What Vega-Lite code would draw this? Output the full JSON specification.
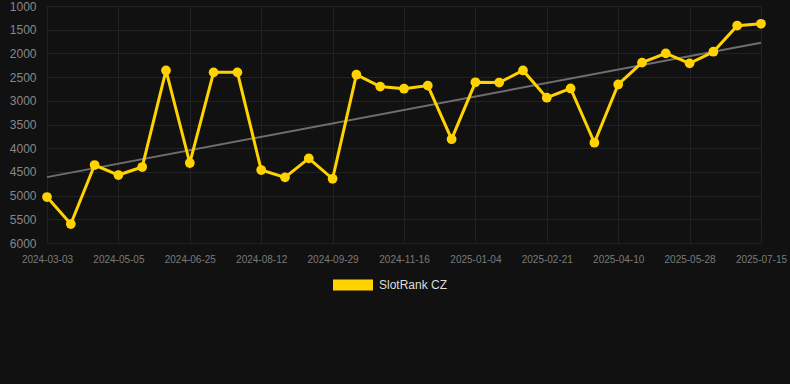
{
  "$schema": "https://vega.github.io/schema/vega-lite/v6.json",
  "width": 752,
  "height": 237,
  "autosize": {"type": "none"},
  "padding": {"left": 38, "top": 6, "right": 0, "bottom": 141},
  "background": "#111111",
  "config": {
    "view": {"stroke": null},
    "font": "Liberation Sans",
    "axis": {"gridColor": "#222222", "gridWidth": 1, "domain": false, "ticks": false, "labelColor": "#7a7a7a", "labelFont": "Liberation Sans"},
    "axisY": {"title": null, "format": "d", "labelOverlap": false, "values": [1000, 1500, 2000, 2500, 3000, 3500, 4000, 4500, 5000, 5500, 6000], "labelFontSize": 12, "labelPadding": 2, "grid": true, "labelColor": "#888888"}
  },
  "data": {
    "values": [
      {"date": "2024-03-03", "rank": 5030, "trend": 4610},
      {"date": "2024-03-24", "rank": 5600},
      {"date": "2024-04-14", "rank": 4355},
      {"date": "2024-05-05", "rank": 4566},
      {"date": "2024-05-22", "rank": 4397},
      {"date": "2024-06-08", "rank": 2360},
      {"date": "2024-06-25", "rank": 4313},
      {"date": "2024-07-11", "rank": 2400},
      {"date": "2024-07-27", "rank": 2400},
      {"date": "2024-08-12", "rank": 4460},
      {"date": "2024-08-28", "rank": 4615},
      {"date": "2024-09-13", "rank": 4215},
      {"date": "2024-09-29", "rank": 4645},
      {"date": "2024-10-15", "rank": 2450},
      {"date": "2024-10-31", "rank": 2700},
      {"date": "2024-11-16", "rank": 2745},
      {"date": "2024-12-02", "rank": 2680},
      {"date": "2024-12-18", "rank": 3810},
      {"date": "2025-01-04", "rank": 2610},
      {"date": "2025-01-20", "rank": 2615},
      {"date": "2025-02-05", "rank": 2360},
      {"date": "2025-02-21", "rank": 2935},
      {"date": "2025-03-09", "rank": 2740},
      {"date": "2025-03-25", "rank": 3885},
      {"date": "2025-04-10", "rank": 2655},
      {"date": "2025-04-26", "rank": 2195},
      {"date": "2025-05-12", "rank": 2000},
      {"date": "2025-05-28", "rank": 2210},
      {"date": "2025-06-13", "rank": 1965},
      {"date": "2025-06-29", "rank": 1415},
      {"date": "2025-07-15", "rank": 1375, "trend": 1775}
    ]
  },
  "encoding": {
    "x": {
      "field": "date",
      "type": "ordinal",
      "scale": {"type": "point", "range": [9, 723], "padding": 0},
      "axis": {
        "title": null,
        "labelAngle": 0,
        "labelFontSize": 10,
        "labelPadding": 11,
        "labelOverlap": false,
        "values": ["2024-03-03", "2024-05-05", "2024-06-25", "2024-08-12", "2024-09-29", "2024-11-16", "2025-01-04", "2025-02-21", "2025-04-10", "2025-05-28", "2025-07-15"],
        "grid": true
      }
    }
  },
  "layer": [
    {
      "mark": {"type": "line", "color": "#6e6e6e", "strokeWidth": 2, "invalid": "filter"},
      "encoding": {
        "y": {
          "field": "trend",
          "type": "quantitative",
          "scale": {"domain": [1000, 6000], "reverse": true, "nice": false, "zero": false},
          "axis": {"values": [1000, 1500, 2000, 2500, 3000, 3500, 4000, 4500, 5000, 5500, 6000], "tickCount": 11}
        }
      }
    },
    {
      "mark": {"type": "line", "strokeWidth": 3},
      "encoding": {
        "y": {"field": "rank", "type": "quantitative", "axis": {"values": [1000, 1500, 2000, 2500, 3000, 3500, 4000, 4500, 5000, 5500, 6000], "tickCount": 11}},
        "color": {
          "datum": "SlotRank CZ",
          "scale": {"range": ["#FFD200"]},
          "legend": {
            "title": null,
            "orient": "none",
            "legendX": 295,
            "legendY": 259,
            "symbolType": "M-1,-0.275H1V0.275H-1Z",
            "symbolSize": 1600,
            "symbolStrokeWidth": 0,
            "symbolFillColor": "#FFD200",
            "symbolOpacity": 1,
            "labelColor": "#dddddd",
            "labelFontSize": 12,
            "labelOffset": 6
          }
        }
      }
    },
    {
      "mark": {"type": "circle", "size": 95, "opacity": 1, "color": "#FFD200"},
      "encoding": {
        "y": {"field": "rank", "type": "quantitative", "axis": {"values": [1000, 1500, 2000, 2500, 3000, 3500, 4000, 4500, 5000, 5500, 6000], "tickCount": 11}}
      }
    }
  ]
}
